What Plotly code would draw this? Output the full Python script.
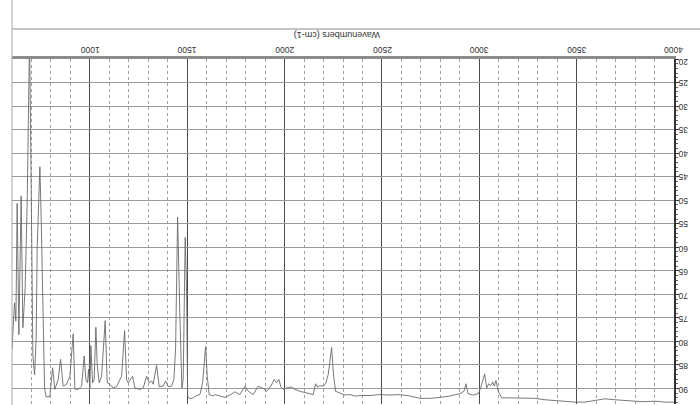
import plotly.graph_objects as go

# Spectrum (wavenumber cm-1, %T)
wavenumber = [600, 603, 613, 620, 626.5, 635.3, 647, 655.8, 667.6, 677.9, 690.2, 698.5, 707.2, 716,
              724.1, 729.3, 736.5, 743.2, 749.8, 758.6, 767.3, 775.5, 794.5, 808.4, 820.2, 837.2,
              849.5, 862.8, 880.3, 897.3, 914.2, 923, 939.9, 957.4, 970.7, 979.5, 988.2, 993.3,
              1000, 1005.1, 1013.9, 1022, 1030.8, 1034.4, 1037.5, 1047.8, 1060.1, 1078.6, 1088.9,
              1102.7, 1119.7, 1137.2, 1154.1, 1162.8, 1178.3, 1188.5, 1196.7, 1219.3, 1231.2,
              1256.9, 1273.8, 1291.3, 1304.6, 1316.9, 1325.2, 1342.6, 1356, 1376.5, 1388.9, 1402.2,
              1419.7, 1431.5, 1440.2, 1450.5, 1462.3, 1472.6, 1479.3, 1489.6, 1496.8, 1501.9,
              1513.7, 1530.7, 1548.1, 1565.1, 1579, 1594.4, 1602.6, 1612.9, 1633.4, 1642.1, 1667.8,
              1693.5, 1719.2, 1744.9, 1770.6, 1796.2, 1813.2, 1838.9, 1864.6, 1890.2, 1907.7,
              1929.8, 1946.7, 1959, 1970.9, 1981.2, 1993, 2010.5, 2036.1, 2053.1, 2078.8, 2104.5,
              2130.1, 2147.1, 2159.4, 2169.7, 2181.5, 2198.5, 2210.8, 2224.2, 2241.6, 2251.9,
              2262.2, 2284.3, 2310, 2335.6, 2361.3, 2395.7, 2438.4, 2489.7, 2541.1, 2592.5,
              2643.8, 2695.2, 2746.6, 2798, 2849.3, 2900.7, 2921.2, 2931.5, 2941.8, 2969, 2994.7,
              3007, 3027.6, 3037.9, 3048.1, 3058.4, 3068.7, 3076.9, 3085.6, 3097.4, 3114.9, 3157.5,
              3208.9, 3234.6, 3286, 3337.3, 3388.7, 3440.1, 3491.4, 3542.8, 3594.2, 3645.5, 3696.9,
              3748.3, 3799.7, 3851, 3902.4, 3953.8, 4000]
transmittance = [81.8, 80, 71.8, 75.7, 50.7, 78.6, 49.1, 77.1, 68.6, 50.7, 15, 47, 82.9, 87.1,
                 79.3, 60, 52.1, 42.9, 53.6, 75.7, 90, 91.8, 91.7, 85.6, 90.2, 88.1,
                 83.8, 89.5, 89.1, 87.4, 78.4, 90.1, 90.2, 89.5, 83.1, 88.1, 88.8, 85.9,
                 89.9, 80.9, 88.8, 88.1, 77, 80.9, 84.9, 88.8, 87.4, 75.6, 88.8,
                 89.1, 89.9, 89.6, 88.1, 87.4, 77.7, 88.1, 88.8, 87.4, 89.9,
                 90.2, 89.9, 87.4, 88.8, 88.4, 89.1, 85.1, 89.6, 89.5, 88.4, 89.6,
                 89.5, 88.1, 81.6, 53.6, 74.5, 89.9, 88.1, 57.9, 69.5, 91.6,
                 92.2, 92, 91.5, 91.3, 88.8, 81.1, 87.4, 91.3, 91.6, 91.3, 91.6,
                 91.9, 91.4, 90.7, 91.3, 89.5, 90.6, 91.3, 89.5, 90, 90.6,
                 89.5, 88.1, 88.8, 88.1, 89.7, 90.2, 89.9, 89.7, 90.2, 90.6, 90.9,
                 91.1, 91.3, 89, 89.7, 89.4, 89.5, 89, 87, 81.3, 87.4,
                 90.6, 90.9, 91.4, 91.3, 91.6, 91.5, 91.5, 91.3, 91.4, 91.3,
                 91.6, 92.1, 92.1, 91.9, 91.6, 91.1, 90.6, 89, 91.1, 91.4, 91.1,
                 89.9, 86.9, 89.9, 89, 89.4, 88.6, 89.5, 88.3, 90.6, 92, 92,
                 92, 92.1, 92.1, 92.4, 92.6, 92.7, 92.9, 92.9, 92.6, 92.2, 92.4,
                 92.6, 92.7, 92.8, 92.7, 92.9, 92.9]

x_ticks = [1000, 1500, 2000, 2500, 3000, 3500, 4000]
y_ticks = [20, 25, 30, 35, 40, 45, 50, 55, 60, 65, 70, 75, 80, 85, 90]
x_title = "Wavenumbers (cm-1)"

FONT = "Liberation Sans, Arial, sans-serif"
ML, MR, MT, MB = 12, 26, 59, 1
W = 700 - ML - MR
H = 405 - MT - MB
Y_SPAN = 73.3

fig = go.Figure()
fig.add_trace(go.Scatter(x=wavenumber, y=transmittance, mode="lines",
                         line=dict(color="#6a6a6a", width=0.9), showlegend=False,
                         hoverinfo="skip"))

fig.update_layout(
    width=700, height=405,
    margin=dict(l=ML, r=MR, t=MT, b=MB, autoexpand=False),
    paper_bgcolor="white", plot_bgcolor="white",
    font=dict(family=FONT, color="#333333", size=9),
    xaxis=dict(
        range=[600, 4000], side="top", automargin=False,
        tickmode="array", tickvals=x_ticks, showticklabels=False,
        ticks="", showline=True, linecolor="#8c8c8c", linewidth=3,
        showgrid=True, gridcolor="#4a4a4a", gridwidth=1, zeroline=False,
        minor=dict(dtick=100, tick0=600, showgrid=True, gridcolor="#a0a0a0",
                   griddash="3px,3px", gridwidth=1),
    ),
    yaxis=dict(
        range=[20 + Y_SPAN, 20], autorange=False, side="right", automargin=False,
        tickmode="array", tickvals=y_ticks, showticklabels=False,
        ticks="outside", ticklen=3, tickcolor="#333", tickwidth=1,
        showline=True, linecolor="#333333", linewidth=2,
        showgrid=True, gridcolor="#9a9a9a", gridwidth=1, zeroline=False,
        minor=dict(dtick=1, tick0=20, ticks="outside", ticklen=2, tickcolor="#666",
                   showgrid=False),
    ),
)

# upside-down tick labels
for v in x_ticks:
    fig.add_annotation(text=str(v), xref="x", yref="paper", x=v, y=1 + 9 / H,
                       showarrow=False, textangle=180, xanchor="center", yanchor="middle",
                       font=dict(size=8.5, family=FONT, color="#333"))
for v in y_ticks:
    off = 3.5 if v == 20 else 1
    fig.add_annotation(text=str(v), xref="paper", yref="y", x=(683.5 - ML) / W,
                       y=v + off / (H / Y_SPAN),
                       showarrow=False, textangle=180, xanchor="center", yanchor="middle",
                       font=dict(size=8.5, family=FONT, color="#333"))

# frame lines around the header area
fig.add_shape(type="line", xref="paper", yref="paper", x0=0, x1=0,
              y0=-0.02, y1=1 + MT / H, line=dict(color="#a8a8a8", width=1))
fig.add_shape(type="line", xref="paper", yref="paper", x0=0, x1=(700 - ML) / W,
              y0=1 + 30 / H, y1=1 + 30 / H, line=dict(color="#b0b0b0", width=1.5))

fig.add_annotation(text=x_title, xref="paper", yref="paper",
                   x=(337 - ML) / W, y=1 + 24 / H, showarrow=False, textangle=180,
                   xanchor="center", yanchor="middle",
                   font=dict(size=9, family=FONT, color="#333"))

fig.write_html("out.html", config={"displayModeBar": False},
               post_script="document.body.style.margin='0';document.body.style.overflow='hidden';")
